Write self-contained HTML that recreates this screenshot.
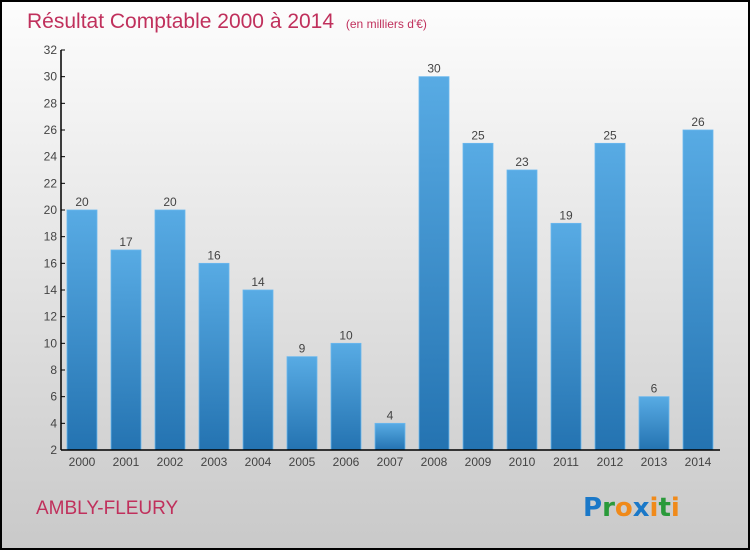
<!DOCTYPE html>
<html><head><meta charset="utf-8"><style>
html,body{margin:0;padding:0;}
body{width:750px;height:550px;overflow:hidden;font-family:"Liberation Sans",sans-serif;}
</style></head><body>
<svg width="750" height="550" xmlns="http://www.w3.org/2000/svg">
<defs>
<linearGradient id="bg" x1="0" y1="0" x2="0" y2="1"><stop offset="0" stop-color="#fdfdfd"/><stop offset="1" stop-color="#c9c9c9"/></linearGradient>
<linearGradient id="bar" x1="0" y1="0" x2="0" y2="1"><stop offset="0" stop-color="#58abe4"/><stop offset="1" stop-color="#2473b1"/></linearGradient>
</defs>
<rect x="1" y="1" width="748" height="548" fill="url(#bg)" stroke="#000" stroke-width="2"/>
<text x="27" y="28" font-size="21" fill="#c0305c">Résultat Comptable 2000 à 2014 <tspan font-size="12" dx="6">(en milliers d'€)</tspan></text>
<g id="yaxis"></g><g id="bars"></g><g id="xaxis"></g>
<text x="36" y="514" font-size="19" fill="#c0305c">AMBLY-FLEURY</text>
<text x="583" y="516" font-size="26" font-weight="bold" font-family="'DejaVu Sans',sans-serif"><tspan fill="#1a78c8">P</tspan><tspan fill="#2a9a3a">r</tspan><tspan fill="#f08a1a">o</tspan><tspan fill="#1a78c8">x</tspan><tspan fill="#f08a1a">i</tspan><tspan fill="#2a9a3a">t</tspan><tspan fill="#f08a1a">i</tspan></text>
</svg>
<script>
const years=["2000","2001","2002","2003","2004","2005","2006","2007","2008","2009","2010","2011","2012","2013","2014"];
const values=[20,17,20,16,14,9,10,4,30,25,23,19,25,6,26];
const yTicks=[2,4,6,8,10,12,14,16,18,20,22,24,26,28,30,32];
const NS="http://www.w3.org/2000/svg";
const y0=450,y1=50,vmin=2,vmax=32,x0=61,band=44;
function Y(v){return y0-(v-vmin)/(vmax-vmin)*(y0-y1);}
function X(i){return x0+6+band*i;}
function mk(t,a,p){const e=document.createElementNS(NS,t);for(const k in a)e.setAttribute(k,a[k]);p.appendChild(e);return e;}
const ya=document.getElementById('yaxis'),ba=document.getElementById('bars'),xa=document.getElementById('xaxis');
const yl=mk('line',{x1:x0,y1:y1,x2:x0,y2:y0,stroke:'#000','stroke-width':1.5},ya);


yTicks.forEach(v=>{
 mk('line',{x1:x0,y1:Y(v),x2:x0+4,y2:Y(v),stroke:'#000'},ya);
 const t=mk('text',{x:x0-4,y:Y(v)+4,'font-size':12,fill:'#444','text-anchor':'end'},ya);t.textContent=v;
 
 
});
values.forEach((v,i)=>{
 const r=mk('rect',{x:X(i),y:Y(v),width:30,height:y0-Y(v),fill:'url(#bar)',stroke:'#6bb8ee','stroke-width':0.8},ba);
 
 
 const t=mk('text',{x:X(i)+15,y:Y(v)-4,'font-size':12,fill:'#444','text-anchor':'middle'},ba);t.textContent=v;
 
 
 const l=mk('text',{x:X(i)+15,y:466,'font-size':12,fill:'#444','text-anchor':'middle'},xa);l.textContent=years[i];
 
 
});
const xl=mk('line',{x1:x0,y1:y0,x2:720,y2:y0,stroke:'#000','stroke-width':1.5},xa);


</script>
</body></html>
